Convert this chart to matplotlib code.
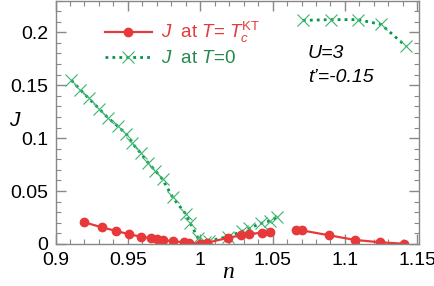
import matplotlib
matplotlib.use('Agg')
import matplotlib.pyplot as plt
import numpy as np
from matplotlib.ticker import MultipleLocator

plt.rcParams['font.family'] = ['Liberation Sans', 'DejaVu Sans']
plt.rcParams['mathtext.fontset'] = 'custom'
plt.rcParams['mathtext.rm'] = 'Liberation Sans'
plt.rcParams['mathtext.it'] = 'Liberation Sans:italic'

# J at T = Tc^KT (NaN = gap in the line)
n_kt = [0.920, 0.932, 0.942, 0.951, 0.959, 0.966, 0.970, 0.974, 0.981, 0.989, 0.992,
        1.000, 1.005, 1.019, 1.028, 1.034, 1.043, 1.048, np.nan,
        1.066, 1.070, 1.089, 1.107, 1.124, 1.141]
J_kt = [0.0205, 0.0157, 0.0123, 0.0091, 0.0069, 0.0054, 0.0046, 0.0040, 0.0025, 0.0016, 0.0013,
        0.0000, 0.0012, 0.0057, 0.0082, 0.0094, 0.0107, 0.0113, np.nan,
        0.0132, 0.0129, 0.0082, 0.0038, 0.0016, 0.0002]

# J at T = 0
n_t0 = [0.911, 0.917, 0.923, 0.930, 0.936, 0.943, 0.949, 0.953, 0.959, 0.964, 0.969, 0.974,
        0.981, 0.990, 0.993, 0.9985, 1.003, 1.006, 1.019, 1.029, 1.034, 1.042, 1.048, 1.053,
        np.nan, 1.071, 1.0905, 1.109, 1.125, 1.142]
J_t0 = [0.1547, 0.1459, 0.1375, 0.1280, 0.1195, 0.1113, 0.1038, 0.0953, 0.0856, 0.0767, 0.0692, 0.0610,
        0.0440, 0.0283, 0.0201, 0.0054, 0.0015, 0.0028, 0.0069, 0.0120, 0.0148, 0.0195, 0.0217, 0.0252,
        np.nan, 0.2113, 0.2120, 0.2120, 0.2075, 0.1870]

xticks = [0.9, 0.95, 1.0, 1.05, 1.1, 1.15]
xticklabels = ['0.9', '0.95', '1', '1.05', '1.1', '1.15']
yticks = [0, 0.05, 0.1, 0.15, 0.2]
yticklabels = ['0', '0.05', '0.1', '0.15', '0.2']

red = '#e8393a'
green_line = '#00994a'
green_mk = '#3cb46e'
green_txt = '#238a4c'

fig = plt.figure(figsize=(4.35, 2.86), dpi=100)
ax = fig.add_axes([0.1276, 0.147, 0.835, 0.851])

ax.plot(n_t0, J_t0, color=green_line, lw=2.0, ls=(0, (1, 1.5)),
        marker='x', ms=8.5, mec=green_mk, mew=0.8, label=r'$J$  at $T$=0')
ax.plot(n_kt, J_kt, color=red, lw=1.6, marker='o', ms=6,
        label=r'$J$  at $T$= $T_c^{\rm KT}$')

ax.set_xlim(0.9, 1.151)
ax.set_ylim(0, 0.23)
ax.xaxis.set_minor_locator(MultipleLocator(0.01))
ax.yaxis.set_minor_locator(MultipleLocator(0.01))
ax.set_xticks(xticks)
ax.set_xticklabels(xticklabels)
ax.set_yticks(yticks)
ax.set_yticklabels(yticklabels)

for s in ax.spines.values():
    s.set_color('#888888')
    s.set_linewidth(1.0)
ax.tick_params(which='both', direction='in', top=True, right=True, colors='#888888',
               labelcolor='black', labelsize=14)
ax.tick_params(axis='x', which='major', pad=6)
ax.tick_params(axis='y', which='major', pad=5)
ax.tick_params(which='major', length=7, width=1.0)
ax.tick_params(which='minor', length=3.5, width=0.8)

ax.set_ylabel('$J$', fontsize=15, rotation=0)
ax.yaxis.set_label_coords(-0.11, 0.47)
ax.set_xlabel('n', fontsize=17, family='Liberation Serif', style='italic')
ax.xaxis.set_label_coords(0.475, -0.075)

h, l = ax.get_legend_handles_labels()
leg = ax.legend(h[::-1], l[::-1], loc='upper left', bbox_to_anchor=(0.115, 0.95),
                frameon=False, fontsize=13.5, handlelength=2.5, handletextpad=0.5,
                labelspacing=0.25, borderaxespad=0)
for t, c in zip(leg.get_texts(), [red, green_txt]):
    t.set_color(c)

ax.text(0.695, 0.765, 'U=3', transform=ax.transAxes, fontsize=14, style='italic')
ax.text(0.695, 0.665, "t’=-0.15", transform=ax.transAxes, fontsize=14, style='italic')

fig.savefig('out.png', dpi=100)
